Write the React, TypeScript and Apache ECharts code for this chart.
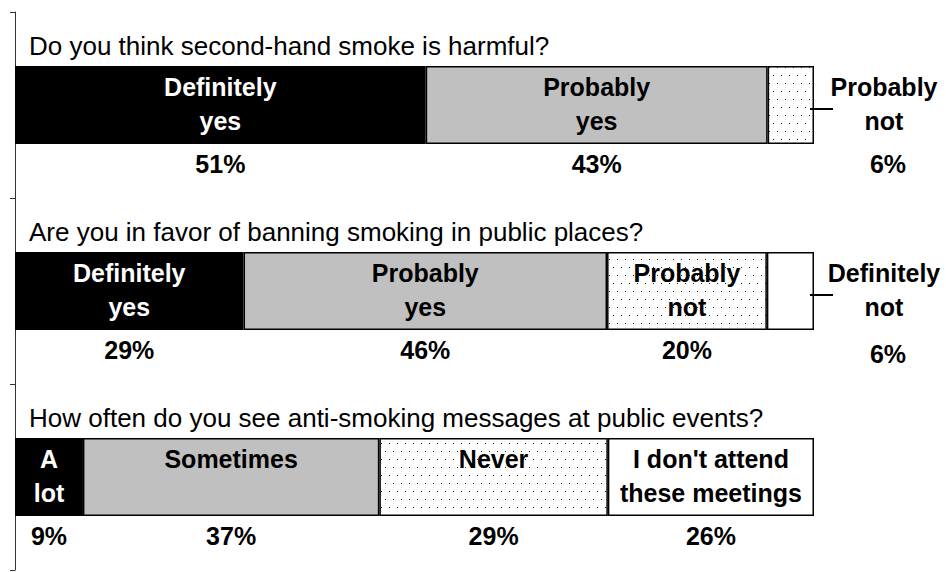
import React, { useEffect, useRef } from "react";
import * as echarts from "echarts";

const questions = [
  "Do you think second-hand smoke is harmful?",
  "Are you in favor of banning smoking in public places?",
  "How often do you see anti-smoking messages at public events?",
];

const q1Names = ["Definitely\nyes", "Probably\nyes", "Probably\nnot"];
const q1Values = [51.4, 42.8, 5.8];
const q1Pct = ["51%", "43%", "6%"];
const q1Outside = [false, false, true];

const q2Names = ["Definitely\nyes", "Probably\nyes", "Probably\nnot", "Definitely\nnot"];
const q2Values = [28.6, 45.5, 20.0, 5.9];
const q2Pct = ["29%", "46%", "20%", "6%"];
const q2Outside = [false, false, false, true];

const q3Names = ["A\nlot", "Sometimes", "Never", "I don't attend\nthese meetings"];
const q3Values = [8.5, 37.1, 28.6, 25.8];
const q3Pct = ["9%", "37%", "29%", "26%"];
const q3Outside = [false, false, false, false];

const allNames = [q1Names, q2Names, q3Names];
const allValues = [q1Values, q2Values, q3Values];
const allPct = [q1Pct, q2Pct, q3Pct];
const allOutside = [q1Outside, q2Outside, q3Outside];

const FONT = "'Liberation Sans', Arial, sans-serif";
const BAR_W = 78;

function makePattern(): HTMLCanvasElement {
  const c = document.createElement("canvas");
  c.width = 8;
  c.height = 16;
  const ctx = c.getContext("2d")!;
  ctx.fillStyle = "#ffffff";
  ctx.fillRect(0, 0, 8, 16);
  ctx.fillStyle = "#222222";
  ctx.fillRect(1, 3, 1, 1);
  ctx.fillRect(5, 11, 1, 1);
  return c;
}

export default function App() {
  const ref = useRef<HTMLDivElement>(null);
  useEffect(() => {
    if (!ref.current) return;
    const chart = echarts.init(ref.current, undefined, { renderer: "svg" });
    const pattern = makePattern();
    const segFills: any[] = [
      "#000000",
      "#c0c0c0",
      { image: pattern, repeat: "repeat" },
      "#ffffff",
    ];

    const barSeries = [0, 1, 2, 3].map((s) => ({
      type: "bar",
      stack: "total",
      barWidth: BAR_W,
      itemStyle: { color: segFills[s], borderColor: "#000", borderWidth: 1.5 },
      data: allValues.map((vals, q) =>
        s < vals.length
          ? {
              value: vals[s],
              label: {
                show: !allOutside[q][s],
                formatter: allNames[q][s],
              },
            }
          : "-"
      ),
      label: {
        show: true,
        position: "insideTop",
        distance: 4,
        color: s === 0 ? "#ffffff" : "#000000",
        fontFamily: FONT,
        fontWeight: "bold",
        fontSize: 25,
        lineHeight: 34,
      },
      silent: true,
    }));

    const annData: number[][] = [];
    allValues.forEach((vals, q) => {
      let acc = 0;
      vals.forEach((v, s) => {
        annData.push([acc, acc + v, q, s]);
        acc += v;
      });
    });

    const annSeries = {
      type: "custom",
      coordinateSystem: "cartesian2d",
      clip: false,
      silent: true,
      z: 10,
      encode: { x: [0, 1], y: 2 },
      data: annData,
      renderItem: (params: any, api: any) => {
        const start = api.value(0);
        const end = api.value(1);
        const q = api.value(2);
        const s = api.value(3);
        const mid = api.coord([(start + end) / 2, q]);
        const right = api.coord([end, q]);
        const left0 = api.coord([0, q]);
        const cy = mid[1];
        const top = cy - BAR_W / 2;
        const children: any[] = [];
        if (s === 0) {
          children.push({
            type: "text",
            x: left0[0] + 14,
            y: top - 20,
            style: {
              text: questions[q],
              fill: "#000",
              font: `26px ${FONT}`,
              align: "left",
              verticalAlign: "middle",
            },
          });
        }
        const outside = allOutside[q][s];
        if (outside) {
          children.push({
            type: "line",
            shape: { x1: right[0] - 4, y1: cy + 4, x2: right[0] + 19, y2: cy + 4 },
            style: { stroke: "#000", lineWidth: 2 },
          });
          children.push({
            type: "text",
            x: right[0] + 70,
            y: top + 4,
            style: {
              text: allNames[q][s],
              fill: "#000",
              font: `bold 25px ${FONT}`,
              lineHeight: 34,
              align: "center",
              verticalAlign: "top",
            },
          });
        }
        children.push({
          type: "text",
          x: outside ? right[0] + 74 : mid[0],
          y: cy + 59 + (outside && q === 1 ? 4 : 0),
          style: {
            text: allPct[q][s],
            fill: "#000",
            font: `bold 25px ${FONT}`,
            align: "center",
            verticalAlign: "middle",
          },
        });
        return { type: "group", children };
      },
    };

    chart.setOption({
      animation: false,
      grid: { left: 15, top: 12, right: 132, bottom: 2, containLabel: false },
      xAxis: {
        type: "value",
        min: 0,
        max: 100,
        show: false,
      },
      yAxis: {
        type: "category",
        inverse: true,
        data: questions,
        axisLine: { show: true, lineStyle: { color: "#333", width: 1 } },
        axisTick: { show: true, length: 5, lineStyle: { color: "#333" } },
        axisLabel: { show: false },
        splitLine: { show: false },
      },
      series: [...barSeries, annSeries],
    });
    return () => chart.dispose();
  }, []);
  return (
    <div
      ref={ref}
      style={{ position: "fixed", left: 0, top: 0, width: 946, height: 572, background: "#fff" }}
    />
  );
}
